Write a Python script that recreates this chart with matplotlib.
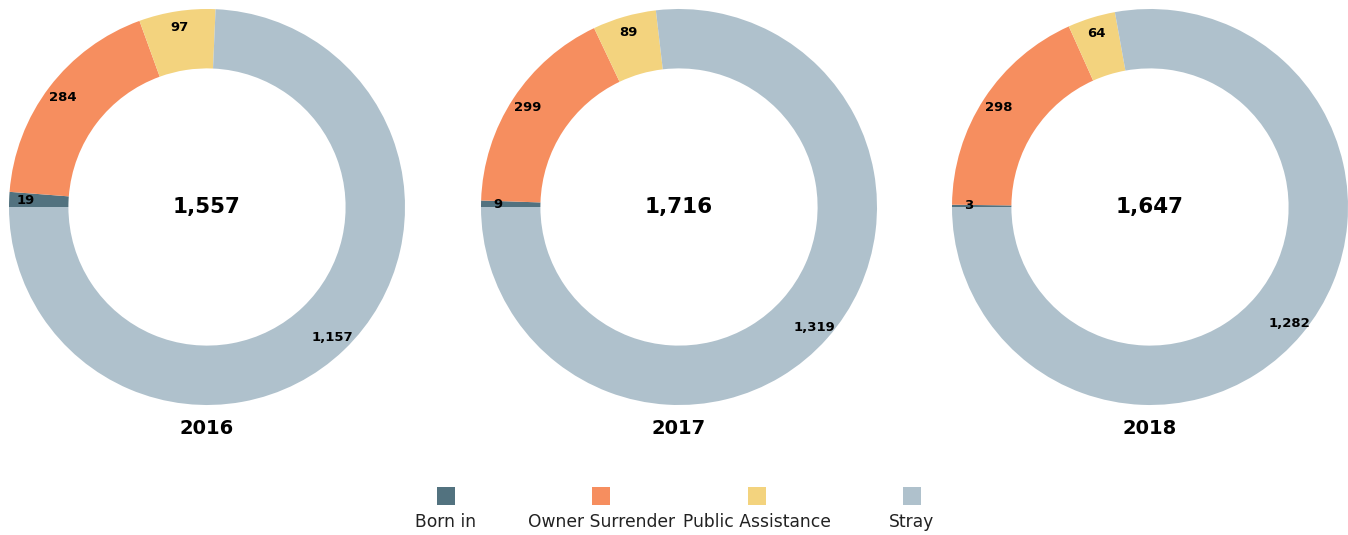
import matplotlib.pyplot as plt
import numpy as np

### DATA ###
years = ["2016", "2017", "2018"]
categories = ["Born in", "Owner Surrender", "Public Assistance", "Stray"]
born_in = [19, 9, 3]
owner_surrender = [284, 299, 298]
public_assistance = [97, 89, 64]
stray = [1157, 1319, 1282]

colors = ["#52727f", "#f68e5f", "#f3d37e", "#afc1cc"]

plt.rcParams['font.family'] = ['DejaVu Sans']

fig = plt.figure(figsize=(13.48, 5.35), dpi=100)

W, H = 1348, 535
centers = [207, 679, 1150]
R = 198

for i, year in enumerate(years):
    vals = [born_in[i], owner_surrender[i], public_assistance[i], stray[i]]
    total = sum(vals)
    cx = centers[i]
    ax = fig.add_axes([(cx - R) / W, (H - 207 - R) / H, 2 * R / W, 2 * R / H])
    ax.pie(vals, colors=colors, startangle=180, counterclock=False, radius=1,
           wedgeprops=dict(width=0.3, linewidth=0),
           autopct=lambda p, t=total: f"{p * t / 100:,.0f}",
           pctdistance=0.915,
           textprops=dict(fontsize=9.5, fontweight='bold', color='black'))
    ax.set_xlim(-1, 1)
    ax.set_ylim(-1, 1)
    ax.set_aspect('equal')
    ax.axis('off')
    ax.text(0, 0, f"{total:,}", ha='center', va='center', fontsize=15.5, fontweight='bold')
    fig.text(cx / W, 1 - 428 / H, year, ha='center', va='center', fontsize=14, fontweight='bold')

### LEGEND ###
step = 155.3
lax = fig.add_axes([(446 - step / 2) / W, 0, 4 * step / W, 60 / H])
lax.set_xlim(-0.5, 3.5)
lax.set_ylim(60, 0)
lax.axis('off')
for j, cat in enumerate(categories):
    lax.scatter([j], [21], marker='s', s=170, color=colors[j], linewidths=0)
    lax.text(j, 47, cat, ha='center', va='center', fontsize=12.3, color='#222222')

fig.savefig("out.png", dpi=100)
